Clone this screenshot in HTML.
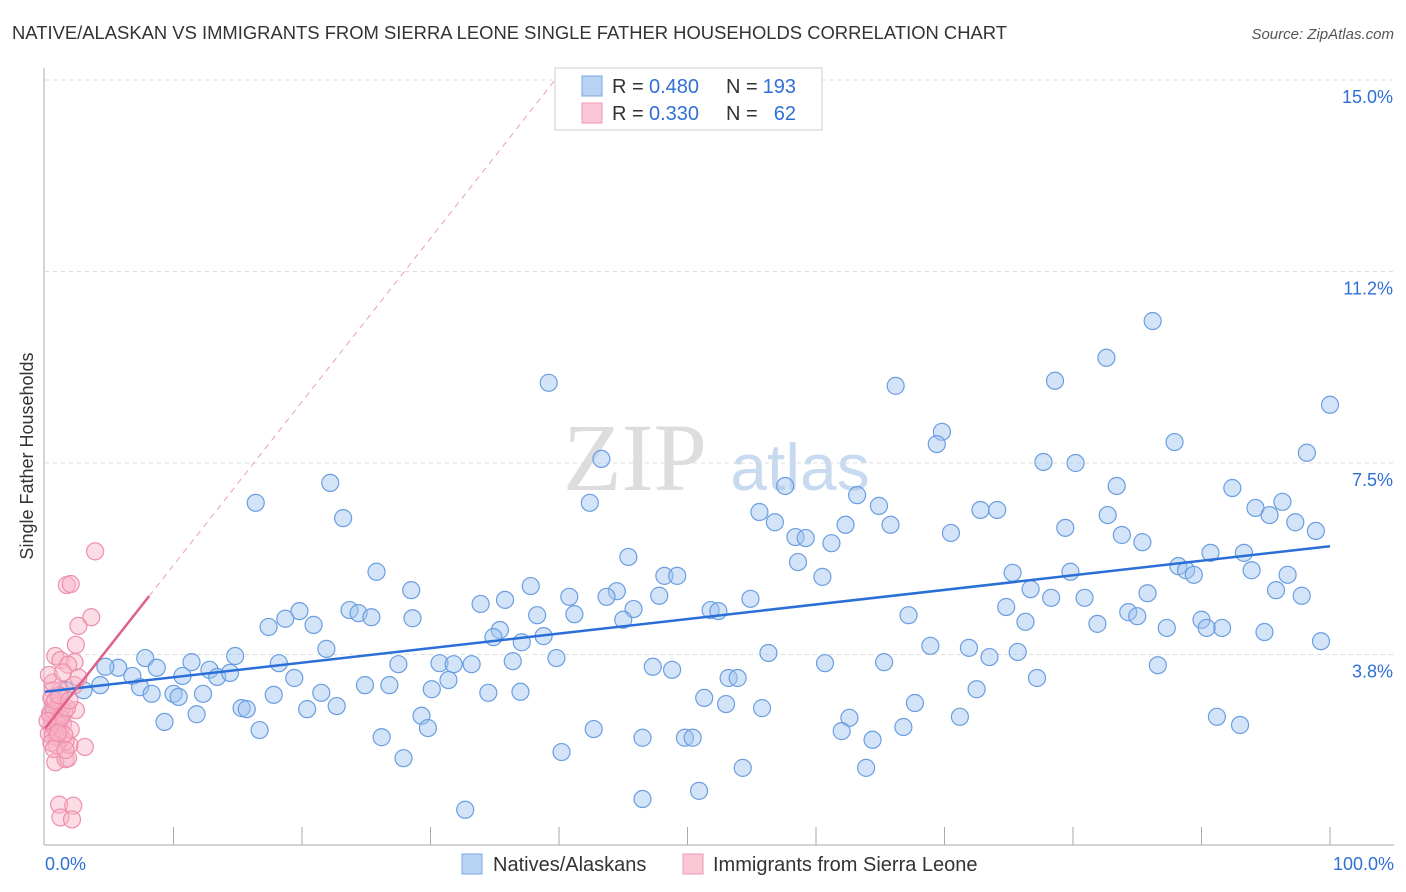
<!DOCTYPE html>
<html><head><meta charset="utf-8">
<style>
body{margin:0;background:#fff;font-family:"Liberation Sans",sans-serif;}
#wrap{position:relative;width:1406px;height:892px;overflow:hidden;}
</style></head>
<body>
<div id="wrap">
<svg id="svg" width="1406" height="892" xmlns="http://www.w3.org/2000/svg">
<text x="12" y="39" font-size="18" fill="#333" textLength="995" lengthAdjust="spacingAndGlyphs">NATIVE/ALASKAN VS IMMIGRANTS FROM SIERRA LEONE SINGLE FATHER HOUSEHOLDS CORRELATION CHART</text>
<text x="1394" y="39" font-size="15" fill="#555" font-style="italic" text-anchor="end">Source: ZipAtlas.com</text>
<text x="33" y="456" font-size="18" fill="#333" text-anchor="middle" transform="rotate(-90 33 456)">Single Father Households</text>
<text x="635" y="490" font-size="96" fill="#ddd" font-family="Liberation Serif,serif" text-anchor="middle">ZIP</text>
<text x="800" y="490" font-size="66" fill="#c8daf0" text-anchor="middle">atlas</text>
<g id="grid"></g><g id="axes"></g><g id="pts"></g><g id="lines"></g>
<g>
<rect x="555" y="68" width="267" height="62" fill="#fff" stroke="#ccc"/>
<rect x="582" y="76" width="20" height="20" fill="#b9d3f5" stroke="#7aa6e0"/>
<rect x="582" y="103" width="20" height="20" fill="#fbc7d6" stroke="#ee9ab3"/>
<text x="612" y="93" font-size="20" fill="#333">R =</text>
<text x="649" y="93" font-size="20" fill="#2f6fd6">0.480</text>
<text x="726" y="93" font-size="20" fill="#333">N =</text>
<text x="796" y="93" font-size="20" fill="#2f6fd6" text-anchor="end">193</text>
<text x="612" y="120" font-size="20" fill="#333">R =</text>
<text x="649" y="120" font-size="20" fill="#2f6fd6">0.330</text>
<text x="726" y="120" font-size="20" fill="#333">N =</text>
<text x="796" y="120" font-size="20" fill="#2f6fd6" text-anchor="end">62</text>
</g>
<g>
<rect x="462" y="854" width="20" height="20" fill="#b9d3f5" stroke="#7aa6e0"/>
<text x="493" y="871" font-size="20" fill="#333">Natives/Alaskans</text>
<rect x="683" y="854" width="20" height="20" fill="#fbc7d6" stroke="#ee9ab3"/>
<text x="713" y="871" font-size="20" fill="#333">Immigrants from Sierra Leone</text>
</g>
</svg>
</div>
<script>
const yTicks=[3.75,7.5,11.25,15];
const yTickLabels=["3.8%","7.5%","11.2%","15.0%"];
const xTickLabels=["0.0%","100.0%"];
const blueX=[86.2,82.6,78.6,39.2,66.2,100,69.8,69.4,87.9,43.3,98.2,77.7,80.2,22.2,57.6,83.4,92.4,16.4,42.4,63.2,96.3,94.2,64.9,55.6,72.8,74.1,23.2,82.7,95.3,56.8,62.3,65.8,97.3,98.9,79.4,70.5,83.8,58.4,59.2,85.4,61.2,90.7,93.3,45.4,58.6,88.2,88.8,25.8,93.9,75.3,79.8,48.2,49.2,60.5,89.4,96.7,37.8,28.5,76.7,95.8,85.8,97.8,44.5,40.8,35.8,43.7,54.9,47.8,78.3,80.9,19.8,33.9,23.7,24.4,45.8,51.8,52.4,74.8,84.3,85.0,17.4,28.6,25.4,41.2,18.7,20.9,38.3,45.0,67.2,76.3,90.0,81.9,87.3,91.6,90.4,94.9,35.4,34.9,37.1,38.8,99.3,21.9,11.4,7.8,14.8,8.7,18.2,27.5,30.7,31.8,33.2,39.8,36.4,47.3,48.8,56.3,60.7,65.3,68.9,71.9,73.5,75.7,86.6,12.8,5.7,4.7,6.8,10.7,13.4,14.4,19.4,31.4,53.2,53.9,77.2,4.3,7.4,24.9,26.8,3.0,1.6,8.3,10.0,10.4,12.3,17.8,21.5,30.1,34.5,37.0,72.5,22.7,15.3,15.7,20.4,51.3,53.0,55.8,67.7,11.8,29.3,9.3,62.6,71.2,91.2,16.7,29.8,42.7,26.2,46.5,49.8,50.4,62.0,64.4,66.8,93.0,40.2,27.9,54.3,63.9,46.5,50.9,32.7];
const blueY=[10.28,9.56,9.11,9.07,9.01,8.64,8.11,7.87,7.91,7.58,7.70,7.52,7.50,7.11,7.05,7.05,7.01,6.72,6.72,6.87,6.74,6.62,6.66,6.54,6.58,6.58,6.42,6.48,6.48,6.34,6.29,6.29,6.34,6.17,6.23,6.13,6.09,6.05,6.03,5.95,5.93,5.74,5.74,5.66,5.56,5.48,5.40,5.37,5.40,5.35,5.37,5.29,5.29,5.27,5.31,5.31,5.09,5.01,5.03,5.01,4.95,4.90,4.99,4.88,4.82,4.88,4.84,4.90,4.86,4.86,4.60,4.74,4.62,4.56,4.64,4.62,4.60,4.68,4.58,4.50,4.29,4.46,4.48,4.54,4.45,4.33,4.52,4.43,4.52,4.39,4.43,4.35,4.27,4.27,4.27,4.19,4.23,4.09,3.99,4.11,4.01,3.86,3.60,3.68,3.72,3.49,3.58,3.56,3.58,3.56,3.56,3.68,3.62,3.51,3.45,3.78,3.58,3.60,3.92,3.88,3.70,3.80,3.54,3.45,3.49,3.51,3.33,3.33,3.31,3.39,3.29,3.25,3.29,3.29,3.29,3.15,3.11,3.15,3.15,3.05,3.05,2.98,2.98,2.92,2.98,2.96,3.00,3.07,3.00,3.02,3.07,2.74,2.70,2.68,2.68,2.90,2.78,2.70,2.80,2.58,2.55,2.43,2.51,2.53,2.53,2.27,2.31,2.29,2.13,2.12,2.12,2.12,2.25,2.08,2.33,2.37,1.84,1.72,1.53,1.53,0.92,1.08,0.71];
const pinkX=[3.9,1.7,2.0,3.6,2.6,2.4,0.8,1.2,2.3,1.8,0.6,1.2,2.3,2.4,3.1,0.8,1.6,1.8,1.1,1.2,2.2,2.1,1.9,0.5,0.7,1.0,1.3,1.5,0.4,0.6,0.9,1.1,1.4,0.5,0.8,1.0,1.2,0.3,0.6,0.9,1.3,1.6,0.4,0.7,1.0,2.0,1.5,0.9,0.5,1.2,1.7,0.8,1.1,0.6,0.3,1.4,2.6,1.9,0.2,0.7,1.6,1.0];
const pinkY=[5.77,5.11,5.13,4.48,4.31,3.94,3.72,3.64,3.60,3.55,3.05,3.05,3.15,2.66,1.94,1.64,1.70,1.72,0.81,0.56,0.79,0.52,1.98,2.90,2.80,2.75,2.70,2.62,2.55,2.50,2.48,2.45,2.40,2.35,2.32,2.30,2.25,2.20,2.15,2.12,2.10,2.05,2.60,2.65,2.38,2.28,2.18,1.98,2.02,2.50,2.70,2.85,2.95,3.20,3.35,3.40,3.30,2.85,2.45,1.90,1.88,2.22];
const blueTrend=[3.02,5.87];
const pinkTrend=[2.3,0.32];
const pinkSolidEnd=8.1;

const X0=45,X1=1330;
const xs=v=>X0+(X1-X0)*v/100;
const ys=v=>654.5-(v-3.75)*51.07;
const NS="http://www.w3.org/2000/svg";
function mk(tag,attrs,parent){const e=document.createElementNS(NS,tag);for(const k in attrs)e.setAttribute(k,attrs[k]);document.getElementById(parent).appendChild(e);return e;}
yTicks.forEach((t,i)=>{
 const l=mk('line',{x1:45,x2:1394,y1:ys(t),y2:ys(t),stroke:'#ddd','stroke-dasharray':'4,4'},'grid');
 
 
 const tx=mk('text',{x:1393,y:ys(t)+23,'font-size':18,fill:'#2f6fd6','text-anchor':'end'},'axes');
 tx.textContent=yTickLabels[i];
 
 
});
const ax=mk('line',{x1:44,x2:44,y1:68,y2:845,stroke:'#aaa'},'axes');


const bx=mk('line',{x1:44,x2:1394,y1:845,y2:845,stroke:'#aaa'},'axes');


for(let i=1;i<=10;i++){const t=mk('line',{x1:xs(i*10),x2:xs(i*10),y1:827,y2:845,stroke:'#aaa'},'axes');
 
 }
[[0,'start',45],[100,'end',1394]].forEach((d,i)=>{const t=mk('text',{x:d[2],y:870,'font-size':18,fill:'#2f6fd6','text-anchor':d[1]},'axes');t.textContent=xTickLabels[i];
 
 });
blueX.forEach((v,i)=>{const c=mk('circle',{cx:xs(v),cy:ys(blueY[i]),r:8.5,fill:'rgba(160,196,240,0.45)',stroke:'#6a9ee0','stroke-width':1.2},'pts');
 
 });
pinkX.forEach((v,i)=>{const c=mk('circle',{cx:xs(v),cy:ys(pinkY[i]),r:8.5,fill:'rgba(248,180,200,0.45)',stroke:'#ee8fad','stroke-width':1.2},'pts');
 
 });
const bl=mk('line',{x1:xs(0),y1:ys(blueTrend[0]),x2:xs(100),y2:ys(blueTrend[1]),stroke:'#2a6fd8','stroke-width':2.5},'lines');


const xEnd=(15-pinkTrend[0])/pinkTrend[1];
const pd=mk('line',{x1:xs(pinkSolidEnd),y1:ys(pinkTrend[0]+pinkTrend[1]*pinkSolidEnd),x2:xs(xEnd),y2:ys(15),stroke:'#e8a0b4','stroke-width':1,'stroke-dasharray':'6,5'},'lines');


const pl=mk('line',{x1:xs(0),y1:ys(pinkTrend[0]),x2:xs(pinkSolidEnd),y2:ys(pinkTrend[0]+pinkTrend[1]*pinkSolidEnd),stroke:'#e0608a','stroke-width':2.5},'lines');


</script>
</body></html>
